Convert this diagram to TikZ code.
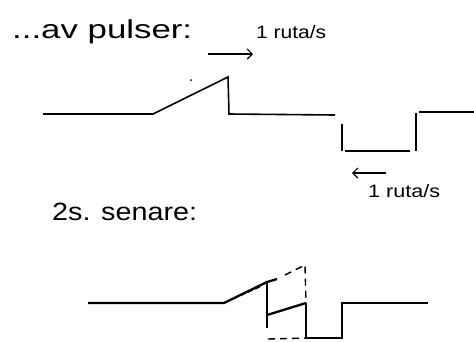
\documentclass[tikz,border=0pt]{standalone}
\usepackage{graphicx}
\usepackage{fontspec}
\setmainfont{Liberation Sans}
\usetikzlibrary{arrows.meta,calc}
\tikzset{
  wave/.style={line width=1.6pt, line join=miter},
  wavethick/.style={line width=2.3pt},
  ghost/.style={line width=1.4pt, dash pattern=on 7pt off 5pt},
  motion/.style={line width=1.2pt, -{Straight Barb[length=5pt,width=10pt,line width=1.2pt]}},
  hand/.style={inner sep=0pt, anchor=base west},
}
\begin{document}
\begin{tikzpicture}[x=1pt,y=-1pt]
\useasboundingbox (0,0) rectangle (474,341);
% texts
\node[hand] (t1) at (12,38) {\resizebox{180pt}{\height}{\fontsize{26}{30}\selectfont ...av pulser:}};
\node[hand] (r1) at (256,38) {\resizebox{70pt}{\height}{\fontsize{18}{21}\selectfont 1 ruta/s}};
\node[hand] (r2) at (368,197) {\resizebox{72pt}{\height}{\fontsize{18}{21}\selectfont 1 ruta/s}};
\node[hand] (t2) at (52,220) {\resizebox{145pt}{\height}{\fontsize{25}{29}\selectfont 2s. senare:}};
% motion arrows
\coordinate (a1s) at (208,54); \coordinate (a1e) at (253,54);
\draw[motion] (a1s) -- (a1e);
\coordinate (a2s) at (386,173); \coordinate (a2e) at (352,173);
\draw[motion] (a2s) -- (a2e);
% top wave
\coordinate (p0) at (43,114);
\coordinate (p1) at (153,114);
\coordinate (p2) at (228,77);
\coordinate (p3) at (229,114);
\coordinate (p4) at (335,115);
\coordinate (p5) at (342,124);
\coordinate (p6) at (342,151);
\coordinate (p6b) at (345,151);
\coordinate (p7) at (410,151);
\coordinate (p8) at (416,151);
\coordinate (p9) at (416,113);
\coordinate (p10) at (419,112);
\coordinate (p11) at (474,112);
\draw[wave] (p0) -- (p1) -- (p2) -- (p3) -- (p4);
\draw[wave] (p5) -- (p6);
\draw[wave] (p6b) -- (p7);
\draw[wave] (p8) -- (p9);
\draw[wave] (p10) -- (p11);
\fill (191,80) circle (1pt);
% bottom wave
\coordinate (q0) at (88,303);
\coordinate (q1) at (224,303);
\coordinate (q2) at (267,282);
\coordinate (q3) at (277,279);
\coordinate (q4) at (267,315);
\coordinate (q5) at (267,328);
\coordinate (q6) at (306,303);
\coordinate (q7) at (306,338);
\coordinate (q8) at (342,338);
\coordinate (q9) at (342,303);
\coordinate (q10) at (428,303);
\coordinate (g1) at (285,275);
\coordinate (g2) at (305,265);
\coordinate (g3) at (268,339);
\coordinate (d1) at (226,302);
\coordinate (d2) at (262,286);
\draw[wavethick] (q0) -- (q1) -- (q2) -- (q3);
\draw[wavethick] (q2) -- (q5);
\draw[wavethick] (q4) -- (q6);
\draw[wavethick] (q6) -- (q7) -- (q8) -- (q9) -- (q10);
\draw[line width=1.2pt, dash pattern=on 5pt off 3pt] (d1) -- (d2);
\draw[ghost] (g1) -- (g2) -- (q6);
\draw[ghost] (g3) -- (q7);
\end{tikzpicture}
\end{document}
